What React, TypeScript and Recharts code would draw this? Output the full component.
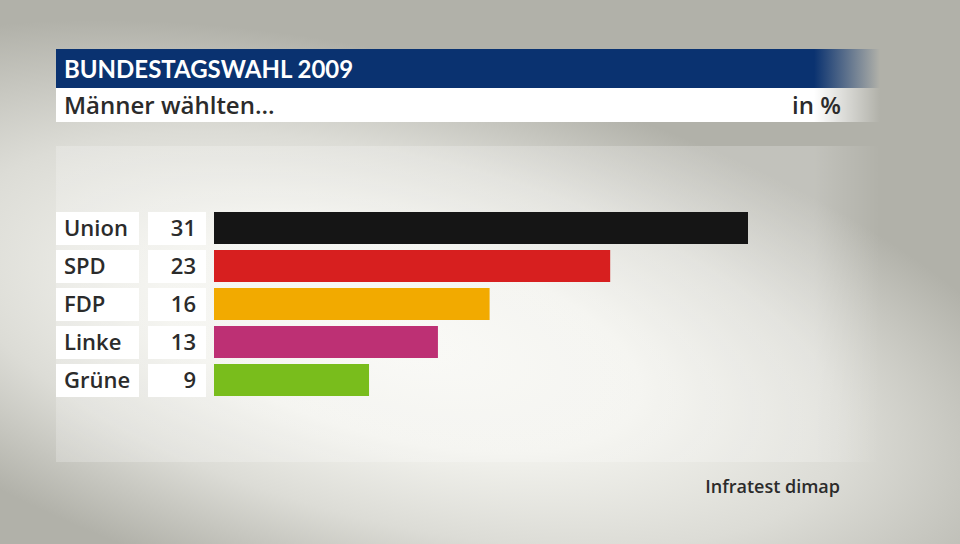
import { Bar, BarChart, Cell, XAxis, YAxis } from "recharts";

const parties = ["Union", "SPD", "FDP", "Linke", "Grüne"];
const shares = [31, 23, 16, 13, 9];
const colors = ["#151515", "#d71f1f", "#f2aa00", "#bd3074", "#79bd1c"];

const data = parties.map((name, i) => ({ name, value: shares[i] }));

const TITLE_FONT = "Lato, sans-serif";
const FONT = "'Open Sans', sans-serif";

const PartyTick = (props: any) => {
  const { y, index } = props;
  return (
    <g>
      <rect x={56} y={y - 16} width={83} height={33} fill="#ffffff" />
      <rect x={148} y={y - 16} width={58} height={33} fill="#ffffff" />
      <text
        x={64}
        y={y + 8}
        fontSize={22}
        fontWeight={600}
        fontFamily={FONT}
        fill="#2b2b2b"
      >
        {parties[index]}
      </text>
      <text
        x={196}
        y={y + 8}
        fontSize={22}
        fontWeight={600}
        fontFamily={FONT}
        fill="#2b2b2b"
        textAnchor="end"
      >
        {shares[index]}
      </text>
    </g>
  );
};

const App = () => {
  return (
    <div
      style={{
        position: "fixed",
        left: 0,
        top: 0,
        width: 960,
        height: 544,
        overflow: "hidden",
        background: "#b1b1a9",
        fontFamily: FONT,
      }}
    >
      {/* soft light glow behind the chart */}
      <div
        style={{
          position: "absolute",
          left: -300,
          top: 60,
          width: 1400,
          height: 560,
          transform: "rotate(14deg)",
          background:
            "radial-gradient(closest-side, #f8f8f4 0%, #f2f2ed 35%, #dcdcd6 65%, rgba(177,177,169,0) 100%)",
        }}
      />
      {/* plot panel */}
      <div
        style={{
          position: "absolute",
          left: 56,
          top: 146,
          width: 824,
          height: 316,
          background:
            "linear-gradient(to right, rgba(255,255,255,0.22) 0%, rgba(255,255,255,0.22) 92%, rgba(255,255,255,0) 100%)",
        }}
      />
      {/* title bar */}
      <div
        style={{
          position: "absolute",
          left: 56,
          top: 49,
          width: 824,
          height: 39,
          background:
            "linear-gradient(to right, #0a3270 0%, #0a3270 92%, rgba(10,50,112,0) 100%)",
          color: "#ffffff",
          fontFamily: TITLE_FONT,
          fontSize: 24,
          fontWeight: 700,
          lineHeight: "39px",
          paddingLeft: 8,
          boxSizing: "border-box",
        }}
      >
        BUNDESTAGSWAHL 2009
      </div>
      {/* subtitle bar */}
      <div
        style={{
          position: "absolute",
          left: 56,
          top: 88,
          width: 824,
          height: 34,
          background:
            "linear-gradient(to right, #ffffff 0%, #ffffff 92%, rgba(255,255,255,0) 100%)",
          color: "#2b2b2b",
          fontSize: 24,
          fontWeight: 600,
          lineHeight: "34px",
          paddingLeft: 8,
          boxSizing: "border-box",
        }}
      >
        Männer wählten...
        <span style={{ position: "absolute", right: 39, top: 0 }}>in %</span>
      </div>
      <div
        style={{
          position: "absolute",
          right: 120,
          top: 474,
          fontSize: 18,
          fontWeight: 600,
          color: "#2b2b2b",
        }}
      >
        Infratest dimap
      </div>
      <div style={{ position: "absolute", left: 0, top: 0 }}>
        <BarChart
          width={960}
          height={544}
          data={data}
          layout="vertical"
          margin={{ top: 209, right: 212, bottom: 145, left: 54 }}
          barCategoryGap={3}
        >
          <XAxis type="number" domain={[0, 31]} hide />
          <YAxis
            type="category"
            dataKey="name"
            width={160}
            axisLine={false}
            tickLine={false}
            tick={<PartyTick />}
          />
          <Bar dataKey="value" isAnimationActive={false}>
            {data.map((d, i) => (
              <Cell key={d.name} fill={colors[i]} />
            ))}
          </Bar>
        </BarChart>
      </div>
    </div>
  );
};

export default App;
